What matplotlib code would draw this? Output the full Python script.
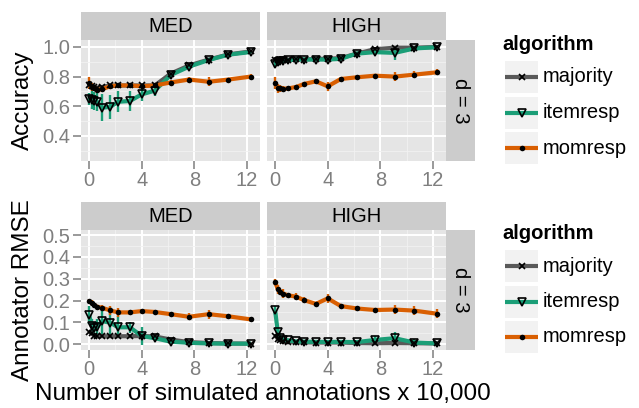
import matplotlib
matplotlib.use("Agg")
import matplotlib.pyplot as plt
from matplotlib.ticker import MultipleLocator

plt.rcParams["font.family"] = ["Liberation Sans", "DejaVu Sans"]

# ── data ─────────────────────────────────────────────────────────────────────
x = [0.0, 0.2, 0.4, 0.6, 1.0, 1.6, 2.2, 3.1, 4.0, 5.0, 6.2, 7.6, 9.1, 10.6, 12.3]

algorithms = ["majority", "itemresp", "momresp"]
levels = ["MED", "HIGH"]

# accuracy
acc_med_majority = [0.745, 0.735, 0.73, 0.725, 0.73, 0.74, 0.74, 0.74, 0.74, 0.74, 0.82, 0.875, 0.915, 0.95, 0.97]
acc_med_itemresp = [0.647, 0.64, 0.635, 0.63, 0.59, 0.595, 0.63, 0.635, 0.68, 0.705, 0.81, 0.867, 0.912, 0.948, 0.966]
acc_med_momresp = [0.755, 0.73, 0.72, 0.71, 0.715, 0.735, 0.74, 0.74, 0.735, 0.74, 0.76, 0.78, 0.765, 0.78, 0.80]
acc_med_majority_err = [0.01] * 15
acc_med_itemresp_err = [0.04, 0.06, 0.06, 0.06, 0.09, 0.08, 0.07, 0.07, 0.045, 0.035, 0.015, 0.01, 0.01, 0.01, 0.008]
acc_med_momresp_err = [0.04, 0.03, 0.02, 0.02, 0.02, 0.015, 0.02, 0.015, 0.015, 0.015, 0.015, 0.02, 0.03, 0.01, 0.02]

acc_high_majority = [0.91, 0.915, 0.915, 0.91, 0.915, 0.92, 0.915, 0.92, 0.92, 0.925, 0.955, 0.985, 0.995, 0.995, 1.0]
acc_high_itemresp = [0.885, 0.9, 0.905, 0.905, 0.91, 0.915, 0.915, 0.915, 0.915, 0.92, 0.955, 0.965, 0.96, 0.99, 0.998]
acc_high_momresp = [0.757, 0.72, 0.72, 0.718, 0.72, 0.73, 0.75, 0.768, 0.734, 0.784, 0.795, 0.806, 0.80, 0.813, 0.829]
acc_high_majority_err = [0.01] * 15
acc_high_itemresp_err = [0.02, 0.015, 0.01, 0.01, 0.01, 0.01, 0.01, 0.01, 0.01, 0.01, 0.01, 0.02, 0.045, 0.01, 0.005]
acc_high_momresp_err = [0.04, 0.03, 0.025, 0.02, 0.015, 0.015, 0.015, 0.01, 0.03, 0.01, 0.01, 0.01, 0.03, 0.025, 0.02]

# annotator rmse
rmse_med_majority = [0.058, 0.05, 0.04, 0.037, 0.037, 0.037, 0.037, 0.037, 0.038, 0.036, 0.022, 0.01, 0.006, 0.004, 0.003]
rmse_med_itemresp = [0.134, 0.085, 0.073, 0.08, 0.106, 0.099, 0.078, 0.078, 0.038, 0.028, 0.012, 0.007, 0.004, 0.003, 0.003]
rmse_med_momresp = [0.198, 0.19, 0.18, 0.172, 0.167, 0.155, 0.146, 0.146, 0.152, 0.148, 0.138, 0.126, 0.138, 0.128, 0.114]
rmse_med_majority_err = [0.005] * 15
rmse_med_itemresp_err = [0.04, 0.03, 0.03, 0.035, 0.06, 0.07, 0.05, 0.025, 0.04, 0.01, 0.008, 0.005, 0.004, 0.003, 0.003]
rmse_med_momresp_err = [0.01, 0.015, 0.01, 0.01, 0.015, 0.02, 0.02, 0.01, 0.01, 0.01, 0.01, 0.015, 0.02, 0.01, 0.01]

rmse_high_majority = [0.04, 0.025, 0.018, 0.015, 0.012, 0.01, 0.009, 0.008, 0.008, 0.008, 0.006, 0.005, 0.006, 0.005, 0.004]
rmse_high_itemresp = [0.155, 0.055, 0.03, 0.022, 0.018, 0.013, 0.012, 0.011, 0.011, 0.011, 0.01, 0.02, 0.028, 0.008, 0.004]
rmse_high_momresp = [0.285, 0.252, 0.24, 0.232, 0.224, 0.218, 0.202, 0.185, 0.21, 0.175, 0.164, 0.157, 0.159, 0.154, 0.14]
rmse_high_majority_err = [0.005] * 15
rmse_high_itemresp_err = [0.02, 0.02, 0.01, 0.005, 0.005, 0.004, 0.004, 0.004, 0.004, 0.004, 0.004, 0.02, 0.03, 0.015, 0.004]
rmse_high_momresp_err = [0.015, 0.02, 0.015, 0.02, 0.01, 0.015, 0.015, 0.01, 0.02, 0.01, 0.01, 0.01, 0.02, 0.02, 0.02]

rows = [
    ("Accuracy", (0.23, 1.047), [0.4, 0.6, 0.8, 1.0], 0.1, {
        "MED": [(acc_med_majority, acc_med_majority_err),
                (acc_med_itemresp, acc_med_itemresp_err),
                (acc_med_momresp, acc_med_momresp_err)],
        "HIGH": [(acc_high_majority, acc_high_majority_err),
                 (acc_high_itemresp, acc_high_itemresp_err),
                 (acc_high_momresp, acc_high_momresp_err)],
    }),
    ("Annotator RMSE", (-0.026, 0.523), [0.0, 0.1, 0.2, 0.3, 0.4, 0.5], 0.05, {
        "MED": [(rmse_med_majority, rmse_med_majority_err),
                (rmse_med_itemresp, rmse_med_itemresp_err),
                (rmse_med_momresp, rmse_med_momresp_err)],
        "HIGH": [(rmse_high_majority, rmse_high_majority_err),
                 (rmse_high_itemresp, rmse_high_itemresp_err),
                 (rmse_high_momresp, rmse_high_momresp_err)],
    }),
]

# ── style ────────────────────────────────────────────────────────────────────
COLORS = {"majority": "#595959", "itemresp": "#1B9E77", "momresp": "#D95F02"}
MARKERS = {"majority": dict(marker="x", ms=5, mew=1.2, mec="black"),
           "itemresp": dict(marker="v", ms=6, mew=1.2, mec="black", mfc="none"),
           "momresp": dict(marker="o", ms=4, mew=0, mfc="black")}
PANEL_BG = "#E5E5E5"
STRIP_BG = "#CCCCCC"
TICK_GREY = "#7F7F7F"
FS_TICK = 14.5
FS_TITLE = 17.5
W, H = 639, 408

fig = plt.figure(figsize=(W / 100, H / 100), dpi=100)


def px_axes(x0, y0, x1, y1, **kw):
    return fig.add_axes([x0 / W, 1 - y1 / H, (x1 - x0) / W, (y1 - y0) / H], **kw)


def strip(x0, y0, x1, y1, text, rotation=0):
    ax = px_axes(x0, y0, x1, y1)
    ax.set_facecolor(STRIP_BG)
    ax.set_xticks([]); ax.set_yticks([])
    for s in ax.spines.values():
        s.set_visible(False)
    ax.text(0.5, 0.5, text, transform=ax.transAxes, ha="center", va="center",
            fontsize=FS_TICK, rotation=rotation)


panel_x = {"MED": (81, 260), "HIGH": (267, 446)}
row_y = [(40, 161), (230, 350)]
strip_y = [(12, 40), (202, 230)]

for r, (ylabel, ylim, yticks, yminor, data) in enumerate(rows):
    y0, y1 = row_y[r]
    for lvl in levels:
        x0, x1 = panel_x[lvl]
        ax = px_axes(x0, y0, x1, y1)
        ax.set_facecolor(PANEL_BG)
        ax.set_xlim(-0.62, 13.0)
        ax.set_ylim(*ylim)
        ax.set_xticks([0, 4, 8, 12])
        ax.xaxis.set_minor_locator(MultipleLocator(2))
        ax.set_yticks(yticks)
        ax.yaxis.set_minor_locator(MultipleLocator(yminor))
        ax.grid(which="major", color="white", lw=1.4)
        ax.grid(which="minor", color="#F2F2F2", lw=0.6)
        ax.set_axisbelow(True)
        for s in ax.spines.values():
            s.set_visible(False)
        ax.tick_params(which="major", length=6, width=1.1, color=TICK_GREY,
                       labelcolor=TICK_GREY, labelsize=FS_TICK, pad=1.5)
        ax.tick_params(which="minor", length=0)
        if lvl == "HIGH":
            ax.set_yticklabels([])
            ax.tick_params(axis="y", length=0)
        else:
            ax.set_yticklabels(["%.1f" % v for v in yticks])

        for alg, (vals, err) in zip(algorithms, data[lvl]):
            ax.errorbar(x, vals, yerr=err, fmt="none", ecolor=COLORS[alg],
                        elinewidth=1.7, capsize=0, zorder=2)
        for alg, (vals, err) in zip(algorithms, data[lvl]):
            ax.plot(x, vals, color=COLORS[alg], lw=3.0, solid_capstyle="butt", zorder=3)
        for alg, (vals, err) in zip(algorithms, data[lvl]):
            ax.plot(x, vals, ls="none", zorder=4, **MARKERS[alg])

        sy0, sy1 = strip_y[r]
        strip(x0, sy0, x1, sy1, lvl)

    strip(446, y0, 475, y1, "d = 3", rotation=-90)
    fig.text(23 / W, 1 - ((y0 + y1) / 2) / H, ylabel, rotation=90, ha="center",
             va="center", fontsize=FS_TITLE)

    # legend drawn as ggplot-style key boxes
    ty = 45 if r == 0 else 234
    fig.text(502 / W, 1 - ty / H, "algorithm", fontsize=FS_TICK, fontweight="bold",
             ha="left", va="center")
    for k, alg in enumerate(algorithms):
        ky0 = ty + 16 + k * 35.5
        kax = px_axes(505, ky0, 538, ky0 + 32)
        kax.set_facecolor("#F2F2F2")
        kax.set_xlim(0, 1); kax.set_ylim(0, 1)
        kax.set_xticks([]); kax.set_yticks([])
        for s in kax.spines.values():
            s.set_visible(False)
        kax.plot([0.05, 0.95], [0.5, 0.5], color=COLORS[alg], lw=3.0)
        kax.plot([0.5], [0.5], ls="none", **MARKERS[alg])
        fig.text(543 / W, 1 - (ky0 + 16) / H, alg, fontsize=FS_TICK, ha="left", va="center")

fig.text(263 / W, 1 - 394 / H, "Number of simulated annotations x 10,000",
         ha="center", va="center", fontsize=FS_TITLE)

fig.savefig("out.png", dpi=100)
